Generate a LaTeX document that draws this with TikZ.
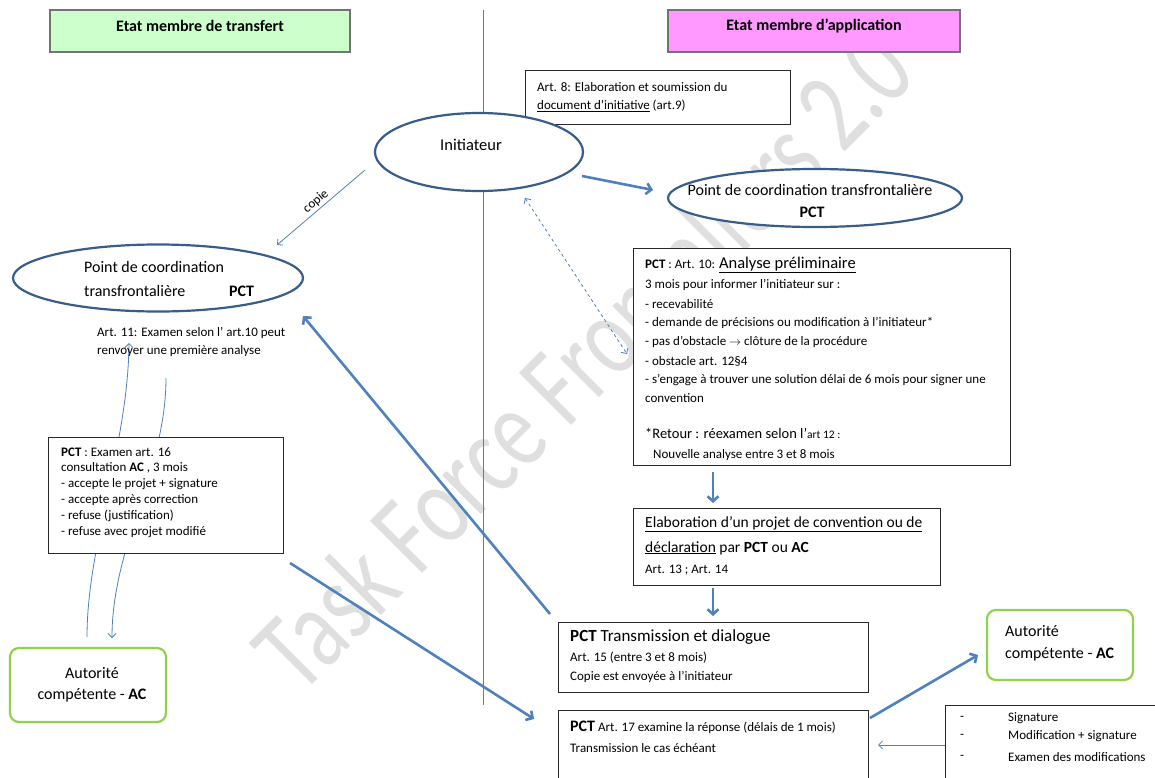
\documentclass[tikz,border=0pt]{standalone}
\usepackage{fontspec}
\setmainfont{Carlito}
\usetikzlibrary{arrows.meta,shapes.geometric}
\definecolor{arrowblue}{RGB}{79,129,189}
\definecolor{ellblue}{RGB}{56,93,138}
\definecolor{acgreen}{RGB}{146,208,80}
\definecolor{hdrgreen}{RGB}{204,255,204}
\definecolor{hdrpink}{RGB}{255,153,255}
\definecolor{wmgray}{RGB}{223,223,223}
\definecolor{boxline}{RGB}{40,40,40}
\begin{document}
\begin{tikzpicture}[x=1pt,y=-1pt,
  box/.style={draw=boxline, line width=0.9pt, fill=white, inner sep=0pt},
  hdr/.style={draw=black!55, line width=1.3pt, inner sep=0pt},
  ell/.style={ellipse, draw=ellblue, line width=2.2pt, fill=white, inner sep=0pt},
  acbox/.style={draw=acgreen, line width=2.2pt, rounded corners=9pt, fill=white, inner sep=0pt},
  txt/.style={anchor=west, inner sep=0pt, font=\fontsize{13}{15}\selectfont},
  stxt/.style={anchor=west, inner sep=0pt, font=\fontsize{13}{15}\selectfont},
  btxt/.style={anchor=west, inner sep=0pt, font=\fontsize{16}{18}\selectfont},
  ctxt/.style={anchor=center, inner sep=0pt, font=\fontsize{16}{18}\selectfont},
  bigarrow/.style={draw=arrowblue, line width=2.6pt, -{Straight Barb[length=5pt,width=11pt]}},
  thinarrow/.style={draw=arrowblue, line width=0.8pt, -{Straight Barb[length=4pt,width=8pt]}}
]
\useasboundingbox[fill=white] (0,0) rectangle (1155,778);

% watermark
\node[rotate=45, text=wmgray, inner sep=0pt, font=\fontsize{115}{115}\selectfont] (wm) at (582,359)
  {\scalebox{0.745}[1]{Task Force Frontaliers 2.0}};

% separator
\coordinate (sepTop) at (483,10);
\coordinate (sepBot) at (483,705);
\draw[arrowblue, line width=0.8pt] (sepTop) -- (sepBot);

% headers
\node[hdr, fill=hdrgreen, minimum width=300pt, minimum height=42pt] (hdrL) at (200,31) {};
\node[inner sep=0pt, font=\bfseries\fontsize{16}{18}\selectfont] (hdrLt) at (200,26) {Etat membre de transfert};
\node[hdr, fill=hdrpink, minimum width=292pt, minimum height=42pt] (hdrR) at (814,31) {};
\node[inner sep=0pt, font=\bfseries\fontsize{16}{18}\selectfont] (hdrRt) at (814,26) {Etat membre d’application};

% left curves (behind boxes)
\coordinate (cu1) at (87,637);
\coordinate (cu2) at (129,343);
\coordinate (cd1) at (166,378);
\coordinate (cd2) at (112,638);
\draw[thinarrow] (cu1) .. controls (87,545) and (128,445) .. (cu2);
\draw[thinarrow] (cd1) .. controls (166,470) and (112,545) .. (cd2);

% Art. 8 box
\node[box, minimum width=265pt, minimum height=54pt] (art8) at (657.5,97) {};
\node[stxt] (art8a) at (537,87) {Art. 8: Elaboration et soumission du};
\node[stxt] (art8b) at (537,106) {\underline{document d’initiative} (art.9)};

% Initiateur
\node[ell, minimum width=208pt, minimum height=78pt] (init) at (479,152) {};
\node[ctxt, font=\fontsize{16.5}{18}\selectfont] (initt) at (471,145) {Initiateur};

% PCT right
\node[ell, minimum width=294pt, minimum height=58pt] (pctR) at (815,198) {};
\node[ctxt] (pctRa) at (810,190) {Point de coordination transfrontalière};
\node[ctxt, font=\bfseries\fontsize{16}{18}\selectfont] (pctRb) at (812,212) {PCT};

% PCT left
\node[ell, minimum width=290pt, minimum height=67pt] (pctL) at (158,278) {};
\node[btxt] (pctLa) at (84,267) {Point de coordination};
\node[btxt] (pctLb) at (84,291) {transfrontalière};
\node[btxt, font=\bfseries\fontsize{16}{18}\selectfont] (pctLc) at (229,291) {PCT};
\node[txt] (art11a) at (97,333) {Art. 11: Examen selon l’ art.10 peut};
\node[txt] (art11b) at (97,351) {renvoyer une première analyse};

% Analyse box
\node[box, minimum width=377pt, minimum height=217pt] (ana) at (821.5,356.5) {};
\node[stxt] (ana1) at (645,265) {\textbf{PCT} : Art. 10: {\fontsize{16.5}{18}\selectfont\underline{Analyse préliminaire}}};
\node[stxt] (ana2) at (645,285) {3 mois pour informer l’initiateur sur :};
\node[stxt] (ana3) at (645,304) {- recevabilité};
\node[stxt] (ana4) at (645,323) {- demande de précisions ou modification à l’initiateur*};
\node[stxt] (ana5) at (645,342) {- pas d’obstacle $\rightarrow$ clôture de la procédure};
\node[stxt] (ana6) at (645,361) {- obstacle art. 12§4};
\node[stxt] (ana7) at (645,380) {- s’engage à trouver une solution délai de 6 mois pour signer une};
\node[stxt] (ana8) at (645,398) {convention};
\node[stxt, font=\fontsize{11.5}{13}\selectfont] (ana9) at (645,433) {{\fontsize{14.5}{16}\selectfont *Retour : réexamen selon l’}art 12 :};
\node[stxt] (ana10) at (653,455) {Nouvelle analyse entre 3 et 8 mois};

% Elaboration box
\node[box, minimum width=307pt, minimum height=77pt] (elab) at (786.5,546.5) {};
\node[btxt, font=\fontsize{15.5}{17}\selectfont] (elab1) at (645,524) {\underline{Elaboration d’un projet de convention ou de}};
\node[btxt, font=\fontsize{15.5}{17}\selectfont] (elab2) at (645,548) {\underline{déclaration} par \textbf{PCT} ou \textbf{AC}};
\node[stxt] (elab3) at (645,570) {Art. 13 ; Art. 14};

% Transmission box
\node[box, minimum width=310pt, minimum height=70pt] (trans) at (713,657) {};
\node[btxt, font=\fontsize{17}{19}\selectfont] (trans1) at (570,637) {\textbf{PCT} Transmission et dialogue};
\node[stxt] (trans2) at (570,658) {Art. 15 (entre 3 et 8 mois)};
\node[stxt] (trans3) at (570,677) {Copie est envoyée à l’initiateur};

% Art 17 box
\node[box, minimum width=310pt, minimum height=85pt] (art17) at (713,752.5) {};
\node[stxt] (a17a) at (570,727) {{\fontsize{16}{18}\selectfont\textbf{PCT}} Art. 17 examine la réponse (délais de 1 mois)};
\node[stxt] (a17b) at (570,748) {Transmission le cas échéant};

% AC right
\node[acbox, minimum width=146pt, minimum height=70pt] (acR) at (1060,645) {};
\node[btxt] (acRa) at (1005,631) {Autorité};
\node[btxt] (acRb) at (1005,654) {compétente - \textbf{AC}};

% bottom right box
\node[box, minimum width=230pt, minimum height=90pt] (brb) at (1060,750) {};
\node[stxt] (br1d) at (960,718) {-};
\node[stxt] (br1) at (1008,718) {Signature};
\node[stxt] (br2d) at (960,736) {-};
\node[stxt] (br2) at (1008,736) {Modification + signature};
\node[stxt] (br3d) at (960,757) {-};
\node[stxt] (br3) at (1008,757) {Examen des modifications};

% left box
\node[box, minimum width=235pt, minimum height=116pt] (lbox) at (165.5,495) {};
\node[stxt] (lb1) at (61,452) {\textbf{PCT} : Examen art. 16};
\node[stxt] (lb2) at (61,468) {consultation \textbf{AC} , 3 mois};
\node[stxt] (lb3) at (61,484) {- accepte le projet + signature};
\node[stxt] (lb4) at (61,500) {- accepte après correction};
\node[stxt] (lb5) at (61,516) {- refuse (justification)};
\node[stxt] (lb6) at (61,532) {- refuse avec projet modifié};

% AC left
\node[acbox, minimum width=156pt, minimum height=74pt] (acL) at (88,685) {};
\node[ctxt] (acLa) at (92,673) {Autorité};
\node[ctxt] (acLb) at (92,695) {compétente - \textbf{AC}};

% arrows
\coordinate (a1s) at (582,176);
\coordinate (a1e) at (653,190);
\draw[bigarrow] (a1s) -- (a1e);
\coordinate (a2s) at (713,472);
\coordinate (a2e) at (713,503);
\draw[bigarrow] (a2s) -- (a2e);
\coordinate (a3s) at (713,588);
\coordinate (a3e) at (713,616);
\draw[bigarrow] (a3s) -- (a3e);
\coordinate (a4s) at (550,614);
\coordinate (a4e) at (303,316);
\draw[bigarrow] (a4s) -- (a4e);
\coordinate (a5s) at (290,563);
\coordinate (a5e) at (534,719);
\draw[bigarrow] (a5s) -- (a5e);
\coordinate (a6s) at (870,718);
\coordinate (a6e) at (978,655);
\draw[bigarrow] (a6s) -- (a6e);

% thin arrows
\coordinate (cps) at (365,170);
\coordinate (cpe) at (277,245);
\draw[thinarrow] (cps) -- node[sloped, above=1pt, font=\fontsize{13}{15}\selectfont, inner sep=1pt] (cplab) {copie} (cpe);
\coordinate (ds) at (525,198);
\coordinate (de) at (627,354);
\draw[arrowblue, line width=0.8pt, dashed, {Straight Barb[length=4pt,width=8pt]}-{Straight Barb[length=4pt,width=8pt]}] (ds) -- (de);
\coordinate (bras) at (945,745);
\coordinate (brae) at (878,745);
\draw[thinarrow] (bras) -- (brae);
\end{tikzpicture}
\end{document}
